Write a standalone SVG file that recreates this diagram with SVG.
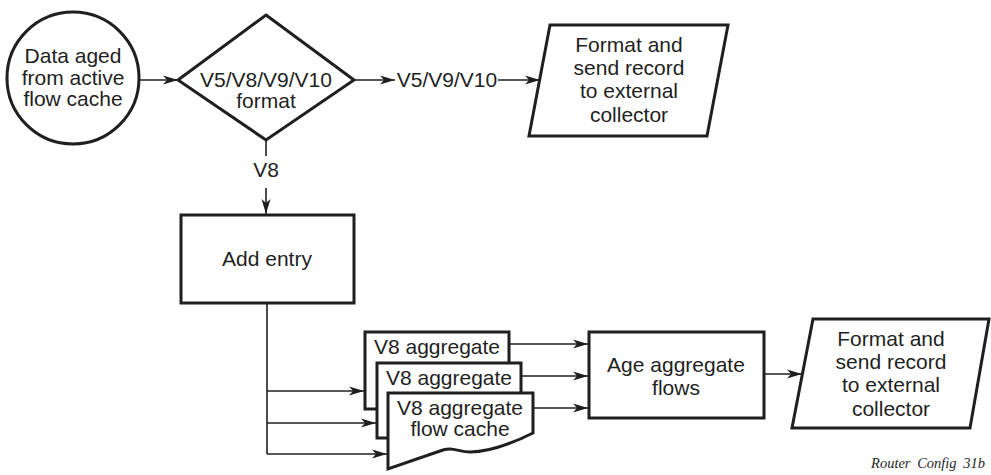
<svg xmlns="http://www.w3.org/2000/svg" width="991" height="475" viewBox="0 0 991 475">
<defs>
<marker id="ah" markerWidth="16" markerHeight="12" refX="15" refY="5" orient="auto" markerUnits="userSpaceOnUse">
<path d="M0,0.5 L15,5 L0,9.5 L4,5 z" fill="#1f1f1f"/>
</marker>
<style>
.shape{fill:#fff;stroke:#1f1f1f;stroke-width:3;stroke-linejoin:miter}
.conn{fill:none;stroke:#1f1f1f;stroke-width:1.6}
.arr{marker-end:url(#ah)}
text{font-family:"Liberation Sans",Arial,sans-serif;font-size:21px;fill:#1f1f1f;text-anchor:middle}
.note{font-family:"Liberation Serif","Times New Roman",serif;font-style:italic;font-size:14.5px;text-anchor:end;word-spacing:3px}
</style>
</defs>
<rect width="991" height="475" fill="#fff"/>
<g id="connectors">
<line class="conn arr" x1="140" y1="80" x2="178" y2="80"/>
<line class="conn arr" x1="354" y1="80" x2="395" y2="80"/>
<line class="conn arr" x1="498" y1="80" x2="540" y2="80"/>
<line class="conn" x1="266" y1="140" x2="266" y2="156"/>
<line class="conn arr" x1="266" y1="188" x2="266" y2="214"/>
<line class="conn" x1="267" y1="303" x2="267" y2="454"/>
<line class="conn arr" x1="267" y1="391" x2="364" y2="391"/>
<line class="conn arr" x1="267" y1="423" x2="376" y2="423"/>
<line class="conn arr" x1="267" y1="454" x2="387" y2="454"/>
<line class="conn arr" x1="509" y1="344" x2="588" y2="344"/>
<line class="conn arr" x1="521" y1="376" x2="588" y2="376"/>
<line class="conn arr" x1="533" y1="408" x2="588" y2="408"/>
<line class="conn arr" x1="764" y1="374" x2="802" y2="374"/>
<text x="447" y="87">V5/V9/V10</text>
<text x="266" y="177">V8</text>
</g>
<g id="start">
<circle class="shape" cx="73" cy="78" r="66" stroke-width="2.6"/>
<text x="73" y="63">Data aged</text>
<text x="73" y="85">from active</text>
<text x="73" y="106">flow cache</text>
</g>
<g id="decision">
<polygon class="shape" points="266,15 354,80 266,140 178,80"/>
<text x="266" y="87">V5/V8/V9/V10</text>
<text x="266" y="108">format</text>
</g>
<g id="send1">
<polygon class="shape" points="550,25 728,25 707,136 529,136"/>
<text x="629" y="52">Format and</text>
<text x="629" y="75">send record</text>
<text x="629" y="98">to external</text>
<text x="629" y="122">collector</text>
</g>
<g id="add-entry">
<rect class="shape" x="181" y="215" width="173" height="88"/>
<text x="267" y="266">Add entry</text>
</g>
<g id="cache1">
<rect class="shape" x="365" y="332" width="144" height="77"/>
<text x="437" y="354">V8 aggregate</text>
</g>
<g id="cache2">
<rect class="shape" x="377" y="363" width="144" height="75"/>
<text x="449" y="385">V8 aggregate</text>
</g>
<g id="cache3">
<path class="shape" d="M388,393 H533 V433 C515,442 490,452 470,452 C458,452 452,446 440,451 C420,458 400,465 388,469 Z"/>
<text x="460" y="415">V8 aggregate</text>
<text x="460" y="436">flow cache</text>
</g>
<g id="age">
<rect class="shape" x="589" y="332" width="175" height="86"/>
<text x="676" y="372">Age aggregate</text>
<text x="676" y="395">flows</text>
</g>
<g id="send2">
<polygon class="shape" points="813,319 989,319 970,428 792,428"/>
<text x="891" y="346">Format and</text>
<text x="891" y="369">send record</text>
<text x="891" y="392">to external</text>
<text x="891" y="416">collector</text>
</g>
<text class="note" x="985" y="468">Router Config 31b</text>
</svg>
